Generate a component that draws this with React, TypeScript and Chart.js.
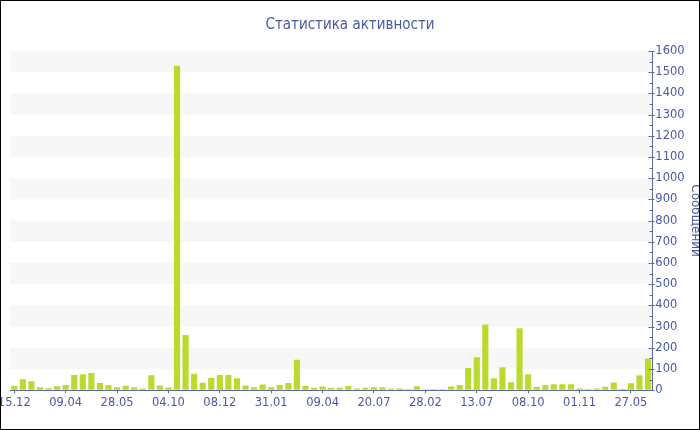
import React, { useEffect, useRef } from 'react';
import { Chart, registerables } from 'chart.js';

Chart.register(...registerables);

const tickLabels = ['15.12', '09.04', '28.05', '04.10', '08.12', '31.01', '09.04', '20.07', '28.02', '13.07', '08.10', '01.11', '27.05'];

const values = [
  20, 52, 42, 14, 9, 19, 24, 72, 75, 81,
  34, 25, 14, 21, 14, 8, 70, 22, 13, 1530,
  260, 78, 35, 57, 72, 72, 56, 22, 14, 27,
  14, 24, 34, 144, 20, 12, 17, 12, 12, 20,
  8, 11, 14, 14, 8, 8, 5, 19, 5, 5,
  5, 17, 24, 105, 155, 310, 56, 108, 38, 292,
  75, 16, 25, 28, 28, 28, 8, 5, 8, 16,
  36, 6, 33, 70, 149,
];

const categories = values.map((_, i) => (i % 6 === 0 ? tickLabels[i / 6] : ''));

const chartTitle = 'Статистика активности';
const yAxisTitle = 'Сообщений';

const AXIS = '#5a6aa8';
const TEXT = '#4a5aa2';
const FONT = '"DejaVu Sans", Verdana, sans-serif';
const TITLE_FONT = '"DejaVu Sans Condensed", "DejaVu Sans", sans-serif';
const VIEW_W = 700;

const bandsPlugin = {
  id: 'bands',
  beforeDraw(chart: any) {
    const { ctx, chartArea, scales } = chart;
    const y = scales.y;
    ctx.save();
    ctx.fillStyle = '#f7f7f7';
    for (let v = 100; v < 1600; v += 200) {
      const top = y.getPixelForValue(v + 100);
      const bot = y.getPixelForValue(v);
      ctx.fillRect(chartArea.left, top, chartArea.right - chartArea.left, bot - top);
    }
    ctx.restore();
  },
};

const yTicksPlugin = {
  id: 'yTicks',
  afterDraw(chart: any) {
    const { ctx, chartArea, scales } = chart;
    const y = scales.y;
    const x = Math.round(chartArea.right) + 0.5;
    ctx.save();
    ctx.strokeStyle = AXIS;
    ctx.lineWidth = 1;
    ctx.beginPath();
    for (let v = 0; v <= 1600; v += 50) {
      const p = Math.round(y.getPixelForValue(v)) + 0.5;
      const major = v % 100 === 0;
      ctx.moveTo(x - (major ? 4 : 3), p);
      ctx.lineTo(x + (major ? 2 : 0), p);
    }
    ctx.stroke();
    ctx.restore();
  },
};

const titlePlugin = {
  id: 'centeredTitle',
  afterDraw(chart: any) {
    const { ctx } = chart;
    ctx.save();
    ctx.fillStyle = TEXT;
    ctx.font = `15px ${TITLE_FONT}`;
    ctx.textAlign = 'center';
    ctx.textBaseline = 'middle';
    ctx.fillText(chartTitle, VIEW_W / 2, 25);
    ctx.restore();
  },
};

export default function App() {
  const ref = useRef<HTMLCanvasElement | null>(null);

  useEffect(() => {
    if (!ref.current) return;
    const chart = new Chart(ref.current, {
      type: 'bar',
      data: {
        labels: categories,
        datasets: [
          {
            data: values,
            backgroundColor: '#badb2d',
            borderWidth: 0,
          },
        ],
      },
      plugins: [bandsPlugin, yTicksPlugin, titlePlugin],
      options: {
        animation: false,
        responsive: false,
        devicePixelRatio: 1,
        layout: { autoPadding: false, padding: { left: 10, right: 6, top: 51, bottom: 17 } },
        plugins: {
          legend: { display: false },
          tooltip: { enabled: false },
          title: { display: false },
        },
        scales: {
          x: {
            offset: true,
            grid: { display: true, offset: false, drawOnChartArea: false, drawTicks: true, tickLength: 3, color: AXIS },
            border: { display: true, color: AXIS },
            ticks: { autoSkip: false, maxRotation: 0, color: TEXT, font: { family: FONT, size: 11.5 }, padding: 3 },
            afterBuildTicks: (s: any) => {
              s.ticks = s.ticks.filter((t: any) => t.value % 6 === 0);
            },
            afterFit: (s: any) => {
              s.paddingLeft = 0;
              s.paddingRight = 0;
            },
          },
          y: {
            position: 'right',
            min: 0,
            max: 1600,
            ticks: { stepSize: 100, color: TEXT, font: { family: FONT, size: 11.5 }, padding: 3, callback: (v: any) => String(v) },
            grid: { display: true, drawOnChartArea: false, drawTicks: false, color: AXIS },
            border: { display: true, color: AXIS },
            title: { display: true, text: yAxisTitle, color: TEXT, font: { family: FONT, size: 12 }, padding: { top: 4, bottom: 0 } },
            afterFit: (s: any) => {
              s.paddingTop = 0;
              s.paddingBottom = 0;
            },
          },
        },
      } as any,
    });
    return () => chart.destroy();
  }, []);

  return (
    <div style={{ position: 'absolute', left: 0, top: 0, width: 700, height: 430, overflow: 'hidden', background: '#fff' }}>
      <canvas ref={ref} width={712} height={430} style={{ display: 'block' }} />
      <div style={{ position: 'absolute', left: 0, top: 0, right: 0, bottom: 0, border: '1px solid #000', boxSizing: 'border-box', pointerEvents: 'none' }} />
    </div>
  );
}
